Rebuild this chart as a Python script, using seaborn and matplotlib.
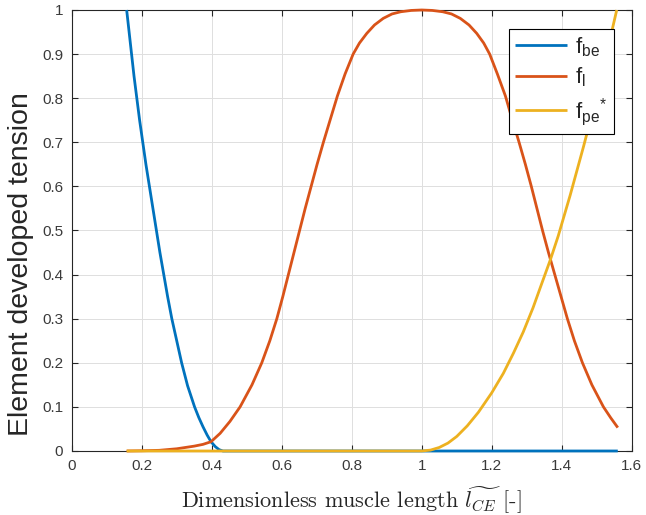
import numpy as np
import pandas as pd
import matplotlib
matplotlib.use('Agg')
import matplotlib.pyplot as plt
import seaborn as sns

# ---- data ----
fbe_x = [0.157, 0.164, 0.171, 0.178, 0.186, 0.194, 0.203, 0.212, 0.222, 0.232,
         0.242, 0.252, 0.263, 0.274, 0.286, 0.300, 0.314, 0.331, 0.351, 0.363,
         0.375, 0.387, 0.398, 0.410, 0.421, 0.432, 0.70, 1.00, 1.30, 1.56]
fbe_y = [1.00, 0.95, 0.90, 0.85, 0.80, 0.75, 0.70, 0.65, 0.60, 0.55,
         0.50, 0.45, 0.40, 0.35, 0.30, 0.25, 0.20, 0.148, 0.10, 0.076,
         0.055, 0.036, 0.021, 0.010, 0.003, 0.0, 0.0, 0.0, 0.0, 0.0]

fl_x = [0.157, 0.200, 0.250, 0.300, 0.350, 0.375, 0.398, 0.424, 0.452, 0.481,
        0.515, 0.543, 0.566, 0.586, 0.603, 0.619, 0.635, 0.651, 0.667, 0.684,
        0.701, 0.719, 0.738, 0.759, 0.781, 0.804, 0.822, 0.843, 0.865, 0.890,
        0.915, 0.940, 0.970, 1.000, 1.030, 1.060, 1.085, 1.110, 1.135, 1.157,
        1.177, 1.194, 1.216, 1.239, 1.259, 1.278, 1.296, 1.313, 1.329, 1.345,
        1.362, 1.380, 1.398, 1.416, 1.436, 1.459, 1.486, 1.519, 1.540, 1.560]
fl_y = [0.0, 0.0005, 0.0015, 0.005, 0.011, 0.015, 0.021, 0.040, 0.067, 0.10,
        0.15, 0.20, 0.25, 0.30, 0.35, 0.40, 0.45, 0.50, 0.55, 0.60,
        0.65, 0.70, 0.75, 0.805, 0.855, 0.90, 0.925, 0.947, 0.966, 0.981,
        0.991, 0.996, 0.999, 1.00, 0.999, 0.996, 0.991, 0.981, 0.966, 0.947,
        0.925, 0.90, 0.855, 0.805, 0.75, 0.70, 0.65, 0.60, 0.55, 0.50,
        0.45, 0.40, 0.35, 0.30, 0.25, 0.20, 0.15, 0.10, 0.075, 0.053]

fpe_x = [0.157, 0.60, 1.000, 1.025, 1.050, 1.075, 1.100, 1.130, 1.162, 1.200,
         1.233, 1.262, 1.290, 1.318, 1.342, 1.368, 1.390, 1.424, 1.462, 1.495,
         1.525, 1.557]
fpe_y = [0.0, 0.0, 0.0, 0.002, 0.008, 0.018, 0.033, 0.057, 0.088, 0.132,
         0.176, 0.222, 0.27, 0.325, 0.378, 0.435, 0.488, 0.58, 0.69, 0.79,
         0.89, 1.00]

series_labels = [r'$\mathregular{f_{be}}$', r'$\mathregular{f_{l}}$',
                 r'$\mathregular{f_{pe}{}^{*}}$']
series_colors = ['#0072BD', '#D95319', '#EDB120']

xticks = [0, 0.2, 0.4, 0.6, 0.8, 1.0, 1.2, 1.4, 1.6]
xticklabels = ['0', '0.2', '0.4', '0.6', '0.8', '1', '1.2', '1.4', '1.6']
yticks = [0, 0.1, 0.2, 0.3, 0.4, 0.5, 0.6, 0.7, 0.8, 0.9, 1.0]
yticklabels = ['0', '0.1', '0.2', '0.3', '0.4', '0.5', '0.6', '0.7', '0.8', '0.9', '1']

xlabel_text = 'Dimensionless muscle length $\\widetilde{l_{CE}}$ [-]'
ylabel_text = 'Element developed tension'

# ---- build long-form table ----
frames = []
for lab, xs, ys in zip(series_labels, [fbe_x, fl_x, fpe_x], [fbe_y, fl_y, fpe_y]):
    frames.append(pd.DataFrame({'x': xs, 'y': ys, 'series': lab}))
df = pd.concat(frames, ignore_index=True)

sns.set_style('white')
plt.rcParams['font.family'] = ['Liberation Sans', 'DejaVu Sans']
plt.rcParams['mathtext.fontset'] = 'dejavusans'

axcol = '#262626'
fig = plt.figure(figsize=(6.46, 5.15), dpi=100)
ax = fig.add_axes([0.111, 0.1243, 0.867, 0.8563])

sns.lineplot(data=df, x='x', y='y', hue='series', hue_order=series_labels,
             palette=series_colors, sort=False, estimator=None, units='series',
             linewidth=2.0, ax=ax)
for ln in ax.get_lines():
    ln.set_clip_on(False)
    ln.set_zorder(3)
    ln.set_solid_capstyle('butt')
    ln.set_solid_joinstyle('round')

ax.set_xlim(0, 1.6)
ax.set_ylim(0, 1)
ax.set_xticks(xticks)
ax.set_xticklabels(xticklabels)
ax.set_yticks(yticks)
ax.set_yticklabels(yticklabels)

ax.grid(True, color='#dfdfdf', linewidth=0.7)
ax.set_axisbelow(True)
for sp in ax.spines.values():
    sp.set_visible(True)
    sp.set_color(axcol)
    sp.set_linewidth(0.8)
ax.tick_params(axis='both', which='both', direction='in', length=4, width=0.8,
               top=True, right=True, bottom=True, left=True,
               colors=axcol, labelsize=11, pad=6)
for t in ax.get_xticklabels() + ax.get_yticklabels():
    t.set_color('#3a3a3a')

ax.set_xlabel(xlabel_text, fontfamily='cmr10', math_fontfamily='cm',
              fontsize=16, color=axcol)
ax.xaxis.set_label_coords(0.5, -0.075)
ax.set_ylabel(ylabel_text, fontsize=20.5, color=axcol)
ax.yaxis.set_label_coords(-0.068, 0.425)

handles, labels = ax.get_legend_handles_labels()
leg = ax.legend(handles, labels, loc='upper right', bbox_to_anchor=(0.969, 0.958),
                borderaxespad=0, fontsize=16, handlelength=2.3, handletextpad=0.4,
                labelspacing=0.3, frameon=True, fancybox=False, framealpha=1,
                edgecolor='#000000', borderpad=0.3)
leg.get_frame().set_linewidth(0.8)
for lh in leg.get_lines():
    lh.set_linewidth(2.0)

fig.savefig('out.png', dpi=100)
